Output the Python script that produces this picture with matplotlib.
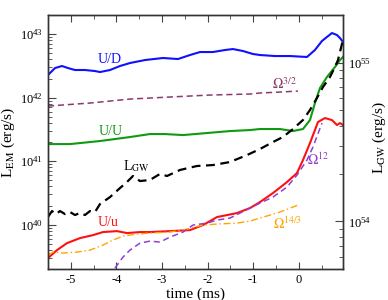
import numpy as np
import matplotlib
matplotlib.use("Agg")
import matplotlib.pyplot as plt
from matplotlib.ticker import MultipleLocator, LogLocator, NullFormatter

plt.rcParams['font.family'] = ['Liberation Serif', 'DejaVu Serif']
plt.rcParams['mathtext.fontset'] = 'stix'

# ---- data (time in ms, log10 luminosity in erg/s) ----
t_ud = [-5.500, -5.346, -5.193, -5.061, -4.908, -4.689, -4.469, -4.360, -4.140, -3.921,
        -3.702, -3.373, -2.978, -2.649, -2.386, -2.167, -1.882, -1.618, -1.443, -1.224,
        -1.004, -0.851, -0.522, -0.193, 0.180, 0.355, 0.509, 0.618, 0.728, 0.838, 0.904, 0.969]
log_ud = [42.356, 42.466, 42.498, 42.466, 42.435, 42.435, 42.419, 42.403, 42.435, 42.498,
          42.545, 42.592, 42.624, 42.608, 42.671, 42.718, 42.718, 42.750, 42.765, 42.734,
          42.687, 42.671, 42.655, 42.655, 42.640, 42.750, 42.892, 42.955, 43.017, 42.986, 42.939, 42.876]

t_om32 = [-5.500, -4.579, -3.702, -2.825, -1.947, -1.070, -0.851, -0.412, -0.018]
log_om32 = [41.868, 41.915, 41.978, 42.010, 42.041, 42.057, 42.073, 42.088, 42.104]

t_uu = [-5.500, -5.018, -4.360, -3.702, -3.263, -2.934, -2.539, -2.013, -1.509, -1.070,
        -0.851, -0.412, -0.127, 0.092, 0.246, 0.355, 0.465, 0.618, 0.794, 0.904, 0.969]
log_uu = [41.269, 41.269, 41.317, 41.380, 41.427, 41.427, 41.411, 41.443, 41.474, 41.490,
          41.506, 41.506, 41.474, 41.506, 41.647, 41.915, 42.151, 42.325, 42.482, 42.592, 42.640]

t_gw = [-5.500, -5.412, -5.325, -5.237, -5.127, -5.018, -4.908, -4.798, -4.689, -4.579,
        -4.469, -4.360, -4.140, -3.921, -3.768, -3.636, -3.482, -3.263, -3.044, -2.890,
        -2.605, -2.232, -1.882, -1.509, -1.136, -0.851, -0.566, -0.346, -0.127, 0.092,
        0.246, 0.399, 0.531, 0.684, 0.794, 0.860, 0.947, 0.969]
log_gw = [54.028, 54.065, 54.046, 54.065, 54.046, 54.059, 54.040, 54.053, 54.040, 54.065,
          54.059, 54.109, 54.153, 54.210, 54.248, 54.286, 54.254, 54.261, 54.299, 54.286,
          54.324, 54.349, 54.355, 54.374, 54.418, 54.456, 54.500, 54.532, 54.582, 54.639,
          54.702, 54.778, 54.847, 54.910, 54.973, 55.017, 55.118, 55.143]

t_uu_small = [-5.500, -5.303, -5.083, -4.798, -4.513, -4.294, -3.987, -3.768, -3.482, -3.263,
              -2.825, -2.386, -2.101, -1.794, -1.355, -1.070, -0.851, -0.566, -0.259, -0.039,
              0.092, 0.246, 0.421, 0.575, 0.728, 0.838, 0.904, 0.969]
log_uu_small = [39.474, 39.600, 39.710, 39.789, 39.836, 39.884, 39.899, 39.868, 39.884, 39.884,
                39.899, 39.915, 39.994, 40.120, 40.183, 40.262, 40.356, 40.498, 40.671, 40.813,
                41.017, 41.285, 41.616, 41.679, 41.647, 41.569, 41.600, 41.569]

t_om143 = [-5.500, -5.390, -5.171, -4.864, -4.579, -4.294, -4.075, -3.855, -3.548, -3.263,
           -2.825, -2.452, -2.101, -1.794, -1.355, -1.070, -0.851, -0.412, -0.018]
log_om143 = [39.521, 39.569, 39.553, 39.569, 39.600, 39.679, 39.758, 39.821, 39.852, 39.868,
             39.884, 39.931, 39.994, 40.010, 40.025, 40.057, 40.104, 40.199, 40.309]

t_om12 = [-4.031, -3.855, -3.702, -3.482, -3.263, -3.044, -2.825, -2.539, -2.320, -2.013,
          -1.794, -1.509, -1.289, -1.070, -0.851, -0.566, -0.259, -0.039, 0.180, 0.311, 0.509]
log_om12 = [39.317, 39.490, 39.600, 39.710, 39.742, 39.726, 39.805, 39.884, 39.994, 40.025,
            40.073, 40.104, 40.183, 40.262, 40.340, 40.435, 40.592, 40.781, 41.017, 41.222, 41.600]

xticks = [-5, -4, -3, -2, -1, 0]

c_blue = '#1010ff'
c_green = '#109a10'
c_red = '#ff1010'
c_orange = '#ffa500'
c_purple = '#9040d0'
c_maroon = '#8a3a6a'

fig = plt.figure(figsize=(3.88, 3.0), dpi=100)
ax = fig.add_axes([0.1237, 0.103, 0.7603, 0.847])
ax2 = ax.twinx()

ax.plot(t_ud, 10**np.array(log_ud), color=c_blue, lw=1.5)
ax.plot(t_om32, 10**np.array(log_om32), color=c_maroon, lw=1.1, ls=(0, (4, 2.5)))
ax.plot(t_uu, 10**np.array(log_uu), color=c_green, lw=1.5)
ax.plot(t_uu_small, 10**np.array(log_uu_small), color=c_red, lw=1.5)
ax.plot(t_om143, 10**np.array(log_om143), color=c_orange, lw=1.0, ls=(0, (5, 2, 1, 2)))
ax.plot(t_om12, 10**np.array(log_om12), color=c_purple, lw=1.1, ls=(0, (4, 2.5)))
ax2.plot(t_gw, 10**np.array(log_gw), color='black', lw=1.6, ls=(0, (4, 2.5)))

ax.set_yscale('log')
ax2.set_yscale('log')
ax.set_xlim(-5.5, 0.97)
ax.set_ylim(2e39, 2e43)
ax2.set_ylim(5e53, 2e55)

ax.set_xticks(xticks)
ax.set_xticklabels([str(v) for v in xticks])
ax.xaxis.set_minor_locator(MultipleLocator(0.5))
ax.yaxis.set_major_locator(LogLocator(base=10, numticks=10))
ax.yaxis.set_minor_locator(LogLocator(base=10, subs=np.arange(2, 10), numticks=10))
ax.yaxis.set_minor_formatter(NullFormatter())
ax2.yaxis.set_major_locator(LogLocator(base=10, numticks=10))
ax2.yaxis.set_minor_locator(LogLocator(base=10, subs=np.arange(2, 10), numticks=10))
ax2.yaxis.set_minor_formatter(NullFormatter())

ax.tick_params(axis='x', which='both', direction='in', top=True, labelsize=9, colors='#444444', labelcolor='black')
ax.tick_params(axis='x', which='major', length=5, width=0.8)
ax.tick_params(axis='x', which='minor', length=3, width=0.6)
ax.tick_params(axis='y', which='both', direction='in', right=False, labelsize=9, colors='#444444', labelcolor='black')
ax.tick_params(axis='y', which='major', length=6, width=0.8)
ax.tick_params(axis='y', which='minor', length=3, width=0.6)
ax2.tick_params(axis='y', which='both', direction='in', labelsize=9, colors='#444444', labelcolor='black')
ax2.tick_params(axis='y', which='major', length=6, width=0.8)
ax2.tick_params(axis='y', which='minor', length=3, width=0.6)
for a in (ax, ax2):
    for s in a.spines.values():
        s.set_color('#333333')
        s.set_linewidth(1.0)

ax.set_xlabel('time (ms)', fontsize=11, labelpad=1)
ax.set_ylabel(r'L$_{\rm EM}$ (erg/s)', fontsize=11, labelpad=2)
ax2.set_ylabel(r'L$_{\rm GW}$ (erg/s)', fontsize=11)
ax2.yaxis.set_label_coords(1.095, 0.52)

ax.text(-4.14, 10**42.60, 'U/D', color=c_blue, fontsize=10, ha='center', va='center')
ax.text(-4.12, 10**41.46, 'U/U', color=c_green, fontsize=10, ha='center', va='center')
ax.text(-4.18, 10**40.04, 'U/u', color=c_red, fontsize=10, ha='center', va='center')
ax.text(-3.86, 10**40.92, r'L$_{\rm GW}$', color='black', fontsize=10, ha='left', va='center')
ax.text(-0.59, 10**42.21, r'$\Omega^{3/2}$', color=c_maroon, fontsize=10, ha='left', va='center')
ax.text(0.18, 10**41.02, r'$\Omega^{12}$', color=c_purple, fontsize=10, ha='left', va='center')
ax.text(-0.57, 10**40.01, r'$\Omega^{14/3}$', color=c_orange, fontsize=10, ha='left', va='center')

fig.savefig('out.png', dpi=100)
